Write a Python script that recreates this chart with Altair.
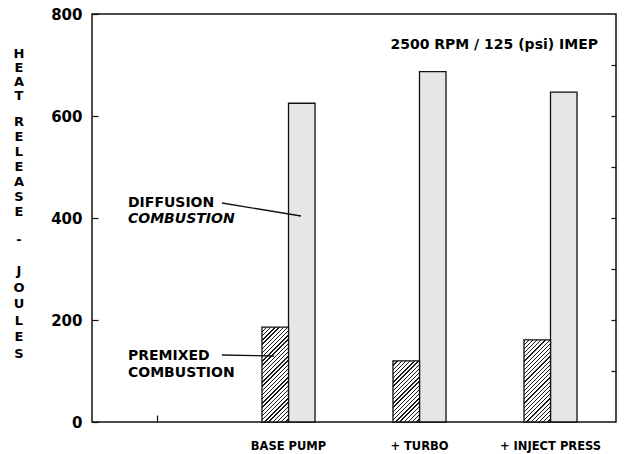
import altair as alt
import pandas as pd

# ---- data ----
categories = ["", "BASE PUMP", "+ TURBO", "+ INJECT PRESS"]
bar_categories = ["BASE PUMP", "+ TURBO", "+ INJECT PRESS"]
series = ["PREMIXED", "DIFFUSION"]
premixed = [186, 120, 161]
diffusion = [625, 687, 647]
y_ticks = [0, 200, 400, 600, 800]
right_ticks = [100, 200, 300, 400, 500, 600, 700]
y_title_words = ["HEAT", "RELEASE", "-", "JOULES"]
note = "2500 RPM / 125 (psi) IMEP"

rows = []
for c, p, d in zip(bar_categories, premixed, diffusion):
    rows.append({"cat": c, "series": "PREMIXED", "value": p})
    rows.append({"cat": c, "series": "DIFFUSION", "value": d})
df = pd.DataFrame(rows)

# ---- layout ----
W, H = 524, 408
YMAX = 800
FONT = "DejaVu Sans"
OFFSET_DOMAIN = ["_l"] + series + ["_r"]
PAD_OUT = 0.47
BAND = W / len(categories)
BAR_W = BAND / (len(OFFSET_DOMAIN) + 2 * PAD_OUT)


def hatch(value, period=4.2, dark=1.3):
    w = BAR_W
    h = value * H / YMAX
    s = w + h
    den = w * w + h * h
    stops = []
    k = 0.0
    while k < s:
        a = k / s
        b = min((k + dark) / s, 1.0)
        c = min((k + period) / s, 1.0)
        stops += [{"offset": a, "color": "#1a1a1a"}, {"offset": b, "color": "#1a1a1a"},
                  {"offset": b, "color": "#ffffff"}, {"offset": c, "color": "#ffffff"}]
        k += period
    return {"gradient": "linear", "x1": 0, "y1": 0,
            "x2": w * s / den, "y2": h * s / den, "stops": stops}


x_enc = alt.X("cat:N", scale=alt.Scale(domain=categories, paddingInner=0, paddingOuter=0),
              axis=alt.Axis(title=None, domain=False, grid=False, ticks=True, tickSize=7,
                            offset=-7, tickColor="#111", tickWidth=1.2,
                            labelFont=FONT, labelFontWeight="bold", labelFontSize=11.5,
                            labelColor="#000", labelPadding=18, labelAngle=0,
                            labelBaseline="top"))
xo_enc = alt.XOffset("series:N", scale=alt.Scale(domain=OFFSET_DOMAIN, paddingInner=0,
                                                  paddingOuter=PAD_OUT))
y_scale = alt.Scale(domain=[0, YMAX], nice=False)

left_axis = alt.Axis(values=y_ticks, tickSize=6, offset=-6, domain=False, grid=False,
                     tickColor="#111", tickWidth=1.2,
                     labelFont=FONT, labelFontWeight="bold", labelFontSize=15,
                     labelColor="#000", labelPadding=10, title=None)
right_axis = alt.Axis(orient="right", values=right_ticks, tickSize=5, offset=-5,
                      domain=False, grid=False, labels=False, title=None,
                      tickColor="#111", tickWidth=1.2)

base = alt.Chart(df)

diff_layer = base.transform_filter(alt.datum.series == "DIFFUSION").mark_bar(
    fill="#e6e6e6", stroke="#111", strokeWidth=1.3
).encode(x=x_enc, xOffset=xo_enc, y=alt.Y("value:Q", scale=y_scale, axis=left_axis))

pre_layers = []
for i, (c, v) in enumerate(zip(bar_categories, premixed)):
    ax = right_axis if i == 0 else None
    lay = base.transform_filter(
        (alt.datum.series == "PREMIXED") & (alt.datum.cat == c)
    ).mark_bar(fill=hatch(v), stroke="#111", strokeWidth=1.3).encode(
        x=x_enc, xOffset=xo_enc, y=alt.Y("value:Q", scale=y_scale, axis=ax))
    pre_layers.append(lay)

ann = alt.Chart(pd.DataFrame({"k": [0]}))


def label(text, x, y, align="left", italic=False, size=14, baseline="middle", lh=None):
    kw = {}
    if lh is not None:
        kw["lineHeight"] = lh
    return ann.mark_text(text=text, font=FONT, fontWeight="bold", fontSize=size,
                         fontStyle="italic" if italic else "normal",
                         align=align, baseline=baseline, color="#000", **kw).encode(
        x=alt.value(x), y=alt.value(y))


def leader(x1, y1, x2, y2):
    return ann.mark_rule(color="#111", strokeWidth=1.3).encode(
        x=alt.value(x1), y=alt.value(y1), x2=alt.value(x2), y2=alt.value(y2))


# vertical stacked y-axis title, one word group at a time
title_pos = [(44, 14), (112, 15), (230, 15), (261, 16.6)]
title_marks = [
    label(list(word), -73, y, align="center", size=13, baseline="alphabetic", lh=lh)
    for word, (y, lh) in zip(y_title_words, title_pos)
]

annotations = [
    label(note, 506, 31, align="right", size=14),
    label("DIFFUSION", 36, 189),
    label("COMBUSTION", 36, 205, italic=True),
    leader(130, 189, 209, 202),
    label("PREMIXED", 36, 342),
    label("COMBUSTION", 36, 359),
    leader(130, 341, 182, 342),
]

chart = alt.layer(diff_layer, *pre_layers, *annotations, *title_marks).resolve_axis(
    y="independent"
).properties(
    width=W, height=H,
    autosize=alt.AutoSizeParams(type="none"),
    padding={"left": 92, "top": 14, "right": 8, "bottom": 32},
    background="#ffffff",
).configure_view(stroke="#111", strokeWidth=1.5)

chart.save("out.html", embed_options={"renderer": "svg", "actions": False})
